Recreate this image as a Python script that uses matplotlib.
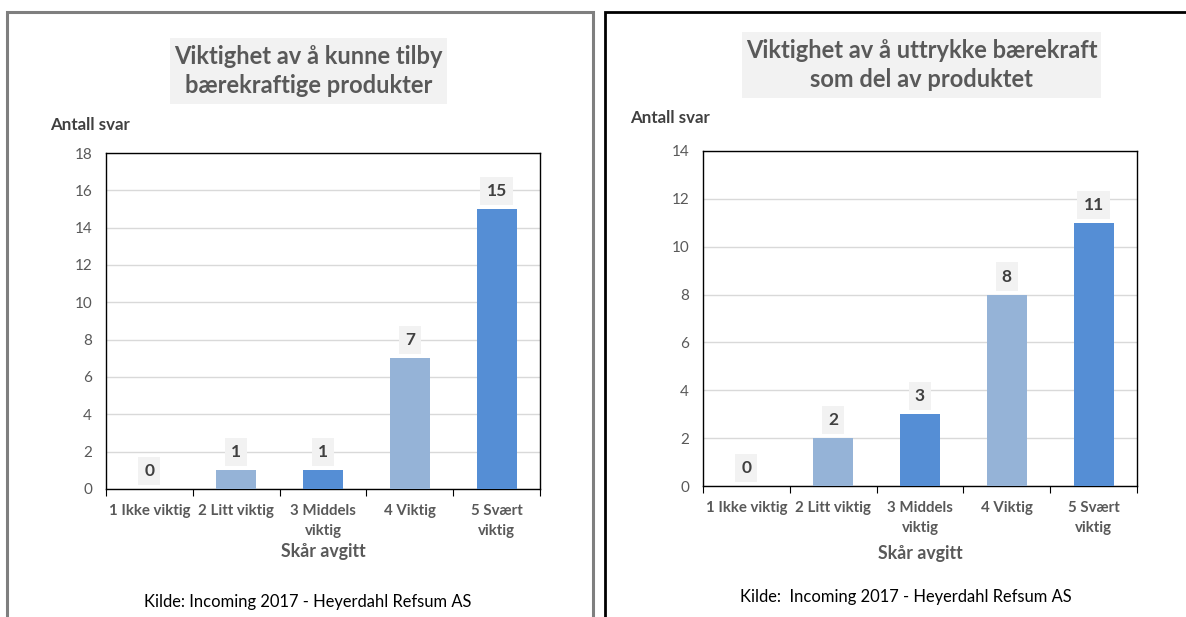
import matplotlib
matplotlib.use("Agg")
import matplotlib.pyplot as plt
from matplotlib.patches import Rectangle
import numpy as np

# ==========================================
# DATA
# ==========================================
CATEGORIES = ["1 Ikke viktig", "2 Litt viktig", "3 Middels\nviktig",
              "4 Viktig", "5 Svært\nviktig"]
LEFT_VALUES  = [0, 1, 1, 7, 15]
RIGHT_VALUES = [0, 2, 3, 8, 11]
LEFT_TITLE   = "Viktighet av å kunne tilby\nbærekraftige produkter"
RIGHT_TITLE  = "Viktighet av å uttrykke bærekraft\nsom del av produktet"
LEFT_SOURCE  = "Kilde: Incoming 2017 - Heyerdahl Refsum AS"
RIGHT_SOURCE = "Kilde:  Incoming 2017 - Heyerdahl Refsum AS"
Y_LABEL = "Antall svar"
X_LABEL = "Skår avgitt"

# ==========================================
# STYLE
# ==========================================
W, H = 1186, 617
DPI  = 100
LIGHT = "#95B3D7"
DARK  = "#558ED5"
BAR_COLORS = [DARK, LIGHT, DARK, LIGHT, DARK]
GREY_TXT = "#595959"
LABEL_TXT = "#404040"
BOX_BG = "#F2F2F2"

plt.rcParams['font.family'] = ['Lato', 'DejaVu Sans']

fig = plt.figure(figsize=(W / DPI, H / DPI), dpi=DPI, facecolor='white')


def px_box(x0, y0, x1, y1):
    """pixel box (top-left origin) -> figure fraction [l, b, w, h]"""
    return [x0 / W, 1 - y1 / H, (x1 - x0) / W, (y1 - y0) / H]


def fx(x):
    return x / W


def fy(y):
    return 1 - y / H


def draw_panel(values, title, source, ymax, ax_px, title_px, ylab_px,
               xlab_y, src_xy):
    ax = fig.add_axes(px_box(*ax_px))
    x = np.arange(len(values))
    ax.bar(x, values, width=0.46, color=BAR_COLORS, zorder=3)
    ax.set_xlim(-0.5, len(values) - 0.5)
    ax.set_ylim(0, ymax)
    ax.set_yticks(np.arange(0, ymax + 1, 2))
    ax.grid(axis='y', color='#D9D9D9', linewidth=1, zorder=0)
    ax.tick_params(axis='y', length=0, labelsize=11, labelcolor=GREY_TXT, pad=10)

    # category labels between boundary ticks
    ax.set_xticks(np.arange(-0.5, len(values)), minor=False)
    ax.set_xticklabels([])
    ax.tick_params(axis='x', which='major', length=5, color='black', direction='out')
    ax.set_xticks(x, minor=True)
    ax.set_xticklabels(CATEGORIES, minor=True, fontsize=10.8, fontweight='bold',
                       color=GREY_TXT, linespacing=1.55)
    ax.tick_params(axis='x', which='minor', length=0, pad=11)

    for sp in ax.spines.values():
        sp.set_color('black')
        sp.set_linewidth(1)

    for xi, v in zip(x, values):
        ax.annotate(str(v), (xi, v), xytext=(0, 13), textcoords='offset points',
                    ha='center', va='center', fontsize=12.5, fontweight='bold',
                    color=LABEL_TXT,
                    bbox=dict(boxstyle='square,pad=0.35', facecolor=BOX_BG,
                              edgecolor='none'))

    # title with grey background
    tx0, ty0, tx1, ty1 = title_px
    fig.patches.append(Rectangle((fx(tx0), fy(ty1)), fx(tx1 - tx0), (ty1 - ty0) / H,
                                 transform=fig.transFigure, facecolor=BOX_BG,
                                 edgecolor='none', zorder=0))
    fig.text(fx((tx0 + tx1) / 2), fy((ty0 + ty1) / 2), title, ha='center',
             va='center', fontsize=17, fontweight='bold', color=GREY_TXT,
             linespacing=1.3)

    fig.text(fx(ylab_px[0]), fy(ylab_px[1]), Y_LABEL, ha='left', va='center',
             fontsize=12.2, fontweight='bold', color=LABEL_TXT)
    fig.text(fx((ax_px[0] + ax_px[2]) / 2), fy(xlab_y), X_LABEL, ha='center',
             va='center', fontsize=12.8, fontweight='bold', color=GREY_TXT)
    fig.text(fx(src_xy[0]), fy(src_xy[1]), source, ha='center', va='center',
             fontsize=11.9, color='black')
    return ax


# ── Panel frames ─────────────────────────────
fig.patches.append(Rectangle((fx(7), fy(640)), fx(586), 628 / H,
                             transform=fig.transFigure, facecolor='none',
                             edgecolor='#7F7F7F', linewidth=2.2, zorder=0))
fig.patches.append(Rectangle((fx(605), fy(640)), fx(600), 628 / H,
                             transform=fig.transFigure, facecolor='none',
                             edgecolor='black', linewidth=2, zorder=0))

draw_panel(LEFT_VALUES, LEFT_TITLE, LEFT_SOURCE, 18,
           ax_px=(106, 153, 540, 489), title_px=(170, 38, 447, 104),
           ylab_px=(50, 125), xlab_y=551, src_xy=(308, 602))
draw_panel(RIGHT_VALUES, RIGHT_TITLE, RIGHT_SOURCE, 14,
           ax_px=(703, 151, 1137, 486), title_px=(742, 32, 1101, 98),
           ylab_px=(630, 118), xlab_y=553, src_xy=(906, 597))

fig.savefig("out.png", dpi=DPI, facecolor='white')
